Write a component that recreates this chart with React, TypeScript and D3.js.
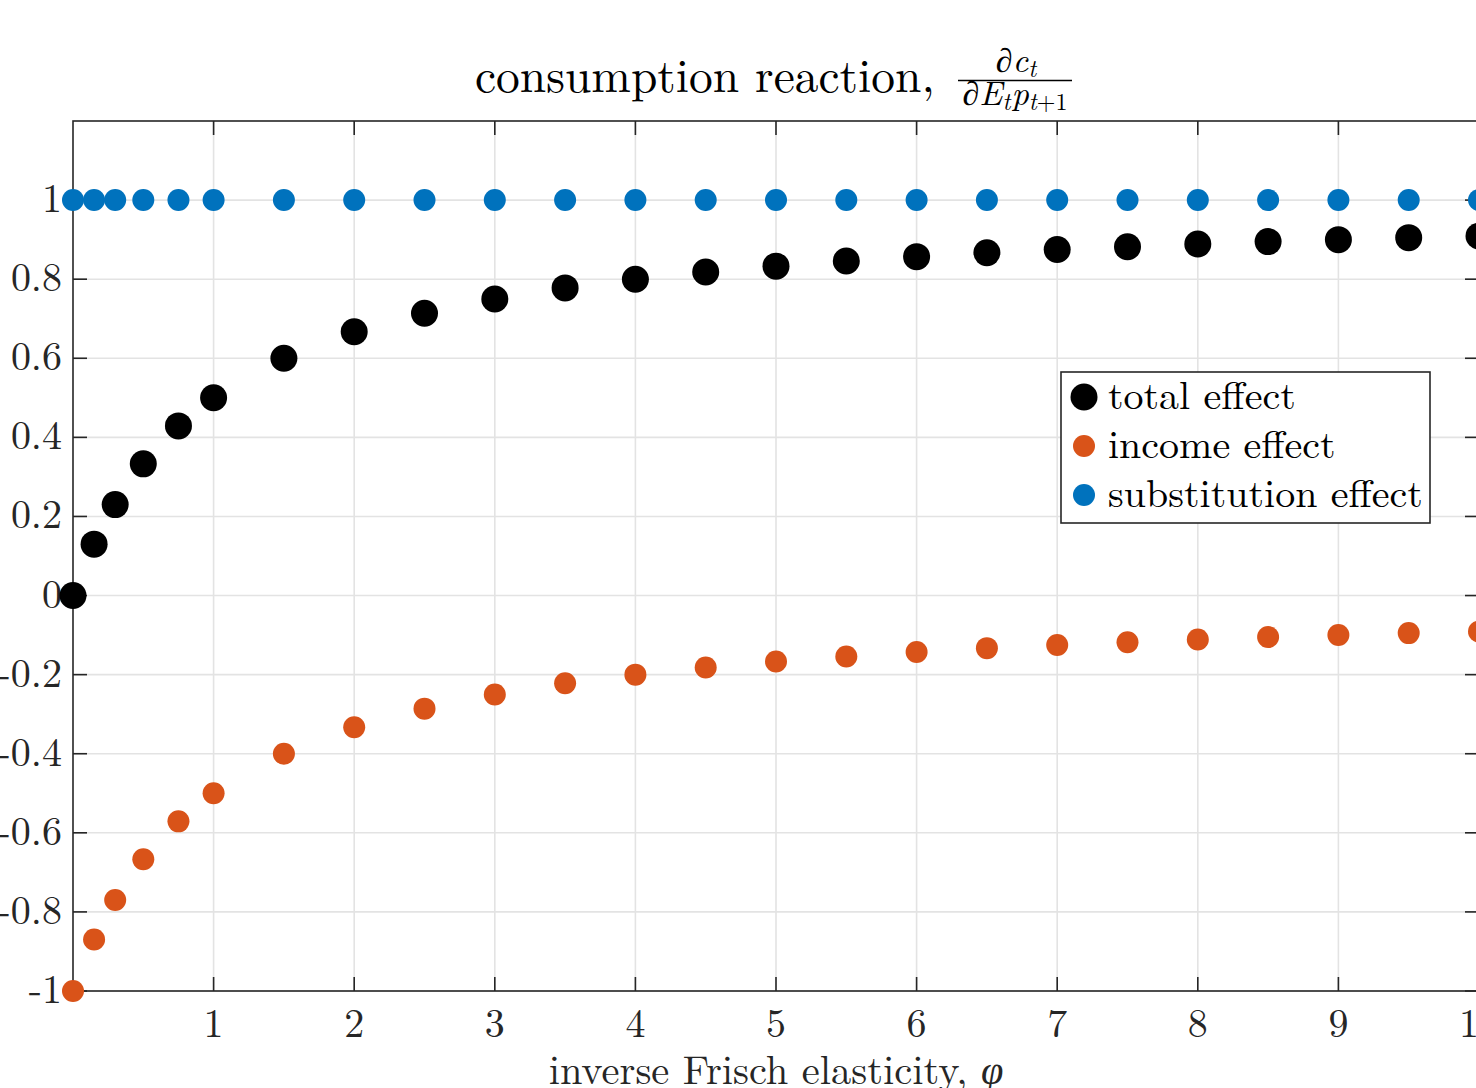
import React from "react";
import * as d3 from "d3";

const phi = [0, 0.15, 0.3, 0.5, 0.75, 1, 1.5, 2, 2.5, 3, 3.5, 4, 4.5, 5, 5.5, 6, 6.5, 7, 7.5, 8, 8.5, 9, 9.5, 10];
const totalEffect = [0, 0.13, 0.23, 0.333, 0.429, 0.5, 0.6, 0.667, 0.714, 0.75, 0.778, 0.8, 0.818, 0.833, 0.846, 0.857, 0.867, 0.875, 0.882, 0.889, 0.895, 0.9, 0.905, 0.909];
const incomeEffect = [-1, -0.87, -0.77, -0.667, -0.571, -0.5, -0.4, -0.333, -0.286, -0.25, -0.222, -0.2, -0.182, -0.167, -0.154, -0.143, -0.133, -0.125, -0.118, -0.111, -0.105, -0.1, -0.095, -0.091];
const substitutionEffect = [1, 1, 1, 1, 1, 1, 1, 1, 1, 1, 1, 1, 1, 1, 1, 1, 1, 1, 1, 1, 1, 1, 1, 1];
const xTicks = [1, 2, 3, 4, 5, 6, 7, 8, 9, 10];
const yTicks = [-1, -0.8, -0.6, -0.4, -0.2, 0, 0.2, 0.4, 0.6, 0.8, 1];
const legendLabels = ["total effect", "income effect", "substitution effect"];

const W = 1476;
const H = 1088;
const FONT = "'Latin Modern Roman', 'CMU Serif', 'Liberation Serif', 'Times New Roman', serif";
const AX = "#262626";
const GRID = "#e3e3e3";

export default function App() {
  const x = d3.scaleLinear().domain([0, 10]).range([73, 1479]);
  const y = d3.scaleLinear().domain([-1, 1.2]).range([991, 121]);
  const [x0, x1] = x.range();
  const [yb, yt] = y.range();
  const tick = 14;
  const fmt = (v: number) => (Math.abs(v) < 1e-9 ? "0" : String(+v.toFixed(1)));

  const series = [
    { name: legendLabels[0], values: totalEffect, color: "#000000", r: 13.5 },
    { name: legendLabels[1], values: incomeEffect, color: "#D95319", r: 11 },
    { name: legendLabels[2], values: substitutionEffect, color: "#0072BD", r: 11 },
  ];

  return (
    <svg width={W} height={H} style={{ position: "absolute", left: 0, top: 0, background: "#fff" }} fontFamily={FONT}>
      <rect x={0} y={0} width={W} height={H} fill="#fff" />
      {/* grid */}
      {xTicks.map((t) => (
        <line key={"gx" + t} x1={x(t)} x2={x(t)} y1={yt} y2={yb} stroke={GRID} strokeWidth={1.6} />
      ))}
      {yTicks.map((t) => (
        <line key={"gy" + t} x1={x0} x2={x1} y1={y(t)} y2={y(t)} stroke={GRID} strokeWidth={1.6} />
      ))}
      {/* axes box */}
      <rect x={x0} y={yt} width={x1 - x0} height={yb - yt} fill="none" stroke={AX} strokeWidth={1.6} />
      {xTicks.map((t) => (
        <g key={"tx" + t}>
          <line x1={x(t)} x2={x(t)} y1={yb} y2={yb - tick} stroke={AX} strokeWidth={1.6} />
          <line x1={x(t)} x2={x(t)} y1={yt} y2={yt + tick} stroke={AX} strokeWidth={1.6} />
          <text x={x(t)} y={1037} textAnchor="middle" fontSize={40} fill={AX}>{String(t)}</text>
        </g>
      ))}
      {yTicks.map((t) => (
        <g key={"ty" + t}>
          <line x1={x0} x2={x0 + tick} y1={y(t)} y2={y(t)} stroke={AX} strokeWidth={1.6} />
          <line x1={x1} x2={x1 - tick} y1={y(t)} y2={y(t)} stroke={AX} strokeWidth={1.6} />
          <text x={62} y={y(t) + 12} textAnchor="end" fontSize={40} fill={AX}>{fmt(t)}</text>
        </g>
      ))}
      {/* markers */}
      {[2, 1, 0].map((si) => {
        const s = series[si];
        return (
          <g key={s.name}>
            {phi.map((p, i) => (
              <circle key={i} cx={x(p)} cy={y(s.values[i])} r={s.r} fill={s.color} />
            ))}
          </g>
        );
      })}
      {/* title */}
      <text x={475} y={92} fontSize={47.5} fill="#000">consumption reaction,</text>
      <text x={1016} y={72} textAnchor="middle" fontSize={34} fill="#000" fontStyle="italic">
        <tspan>∂c</tspan>
        <tspan fontSize={24} dy={5}>t</tspan>
      </text>
      <line x1={958} x2={1072} y1={80.5} y2={80.5} stroke="#000" strokeWidth={1.6} />
      <text x={1015} y={105} textAnchor="middle" fontSize={34} fill="#000" fontStyle="italic">
        <tspan>∂E</tspan>
        <tspan fontSize={24} dy={5}>t</tspan>
        <tspan dy={-5} dx={1}>p</tspan>
        <tspan fontSize={24} dy={5}>t</tspan>
        <tspan fontSize={24} fontStyle="normal">+1</tspan>
      </text>
      {/* x label */}
      <text x={776} y={1084} textAnchor="middle" fontSize={40.5} fill={AX}>
        inverse Frisch elasticity, <tspan fontStyle="italic">φ</tspan>
      </text>
      {/* legend */}
      <rect x={1061} y={372} width={369} height={151} fill="#fff" stroke={AX} strokeWidth={1.6} />
      {series.map((s, i) => (
        <g key={"lg" + i}>
          <circle cx={1084} cy={397 + i * 49} r={s.r} fill={s.color} />
          <text x={1108} y={409 + i * 49} fontSize={40} fill="#000">{s.name}</text>
        </g>
      ))}
    </svg>
  );
}
